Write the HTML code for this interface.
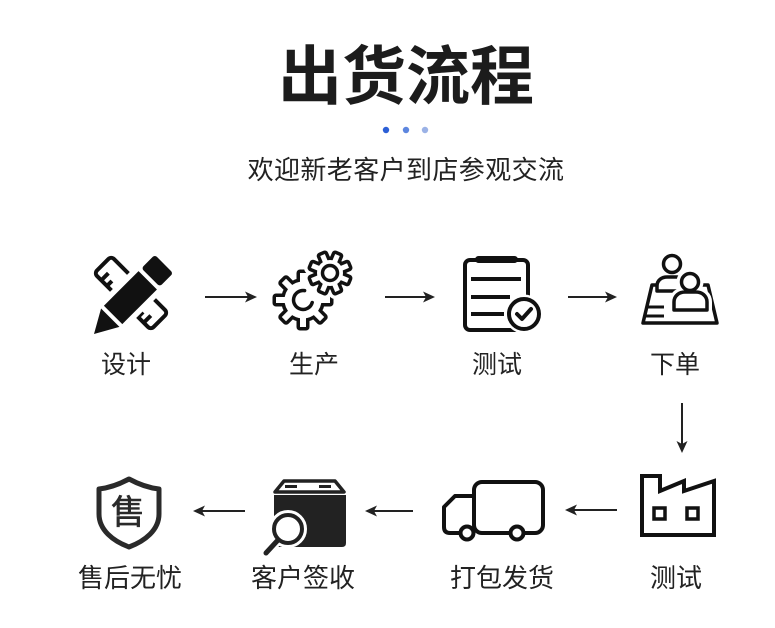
<!DOCTYPE html>
<html><head><meta charset="utf-8"><style>
html,body{margin:0;padding:0;background:#fff;}
#c{position:relative;width:775px;height:628px;overflow:hidden;background:#fff;font-family:"Liberation Sans","Noto Sans CJK SC",sans-serif;}
.t{position:absolute;line-height:1;text-align:center;white-space:nowrap;color:#222;}
svg{position:absolute;left:0;top:0;}
</style></head><body><div id="c">
<svg width="775" height="628" viewBox="0 0 775 628">
<!-- dots -->
<circle cx="386" cy="130" r="3.2" fill="#2c5fd6"/>
<circle cx="406" cy="130" r="3.2" fill="#5d86df"/>
<circle cx="425" cy="130" r="3.2" fill="#9bb2e6"/>

<!-- design icon: ruler -->
<g transform="translate(131,293) rotate(45)" fill="none" stroke="#111" stroke-width="4" stroke-linejoin="round">
<rect x="-40" y="-12" width="80" height="24" rx="4"/>
<line x1="-30" y1="12" x2="-30" y2="2"/>
<line x1="-22" y1="12" x2="-22" y2="5"/>
<line x1="30" y1="12" x2="30" y2="2"/>
<line x1="22" y1="12" x2="22" y2="5"/>
</g>
<!-- pencil -->
<g transform="translate(94,334) rotate(-45)">
<path d="M0,0 L23,-14 L99,-14 L99,14 L23,14 Z" fill="#fff" stroke="#fff" stroke-width="9" stroke-linejoin="round"/>
<polygon points="0,0 23,-13 23,13" fill="#111"/>
<rect x="27" y="-13" width="49" height="26" fill="#111"/>
<rect x="80" y="-13" width="19" height="26" rx="3" fill="#111"/>
</g>

<!-- gears -->
<g transform="translate(303,300)">
<g stroke="#111" stroke-width="7" stroke-linejoin="round" fill="#111">
<circle r="18.5"/>
<rect x="-3" y="-27" width="6" height="27" transform="rotate(0)"/>
<rect x="-3" y="-27" width="6" height="27" transform="rotate(45)"/>
<rect x="-3" y="-27" width="6" height="27" transform="rotate(90)"/>
<rect x="-3" y="-27" width="6" height="27" transform="rotate(135)"/>
<rect x="-3" y="-27" width="6" height="27" transform="rotate(180)"/>
<rect x="-3" y="-27" width="6" height="27" transform="rotate(225)"/>
<rect x="-3" y="-27" width="6" height="27" transform="rotate(270)"/>
<rect x="-3" y="-27" width="6" height="27" transform="rotate(315)"/>
</g>
<g fill="#fff">
<circle r="18.5"/>
<rect x="-3" y="-27" width="6" height="27" transform="rotate(0)"/>
<rect x="-3" y="-27" width="6" height="27" transform="rotate(45)"/>
<rect x="-3" y="-27" width="6" height="27" transform="rotate(90)"/>
<rect x="-3" y="-27" width="6" height="27" transform="rotate(135)"/>
<rect x="-3" y="-27" width="6" height="27" transform="rotate(180)"/>
<rect x="-3" y="-27" width="6" height="27" transform="rotate(225)"/>
<rect x="-3" y="-27" width="6" height="27" transform="rotate(270)"/>
<rect x="-3" y="-27" width="6" height="27" transform="rotate(315)"/>
</g>
<path d="M1.6,-9.4 A9.5,9.5 0 1 0 9.2,2.5" fill="none" stroke="#111" stroke-width="3.5" stroke-linecap="round"/>
</g>
<g transform="translate(330,273)">
<g stroke="#fff" stroke-width="14" stroke-linejoin="round" fill="#fff">
<circle r="13"/>
<rect x="-2.5" y="-19.5" width="5" height="19.5" transform="rotate(22.5)"/>
<rect x="-2.5" y="-19.5" width="5" height="19.5" transform="rotate(67.5)"/>
<rect x="-2.5" y="-19.5" width="5" height="19.5" transform="rotate(112.5)"/>
<rect x="-2.5" y="-19.5" width="5" height="19.5" transform="rotate(157.5)"/>
<rect x="-2.5" y="-19.5" width="5" height="19.5" transform="rotate(202.5)"/>
<rect x="-2.5" y="-19.5" width="5" height="19.5" transform="rotate(247.5)"/>
<rect x="-2.5" y="-19.5" width="5" height="19.5" transform="rotate(292.5)"/>
<rect x="-2.5" y="-19.5" width="5" height="19.5" transform="rotate(337.5)"/>
</g>
<g stroke="#111" stroke-width="7" stroke-linejoin="round" fill="#111">
<circle r="13"/>
<rect x="-2.5" y="-19.5" width="5" height="19.5" transform="rotate(22.5)"/>
<rect x="-2.5" y="-19.5" width="5" height="19.5" transform="rotate(67.5)"/>
<rect x="-2.5" y="-19.5" width="5" height="19.5" transform="rotate(112.5)"/>
<rect x="-2.5" y="-19.5" width="5" height="19.5" transform="rotate(157.5)"/>
<rect x="-2.5" y="-19.5" width="5" height="19.5" transform="rotate(202.5)"/>
<rect x="-2.5" y="-19.5" width="5" height="19.5" transform="rotate(247.5)"/>
<rect x="-2.5" y="-19.5" width="5" height="19.5" transform="rotate(292.5)"/>
<rect x="-2.5" y="-19.5" width="5" height="19.5" transform="rotate(337.5)"/>
</g>
<g fill="#fff">
<circle r="13"/>
<rect x="-2.5" y="-19.5" width="5" height="19.5" transform="rotate(22.5)"/>
<rect x="-2.5" y="-19.5" width="5" height="19.5" transform="rotate(67.5)"/>
<rect x="-2.5" y="-19.5" width="5" height="19.5" transform="rotate(112.5)"/>
<rect x="-2.5" y="-19.5" width="5" height="19.5" transform="rotate(157.5)"/>
<rect x="-2.5" y="-19.5" width="5" height="19.5" transform="rotate(202.5)"/>
<rect x="-2.5" y="-19.5" width="5" height="19.5" transform="rotate(247.5)"/>
<rect x="-2.5" y="-19.5" width="5" height="19.5" transform="rotate(292.5)"/>
<rect x="-2.5" y="-19.5" width="5" height="19.5" transform="rotate(337.5)"/>
</g>
<circle r="7.5" fill="none" stroke="#111" stroke-width="3.5"/>
</g>

<!-- clipboard -->
<rect x="465" y="260" width="63" height="70" rx="5" fill="none" stroke="#111" stroke-width="4"/>
<rect x="475" y="256" width="43" height="7" rx="3.5" fill="#111"/>
<g stroke="#111" stroke-width="4">
<line x1="471" y1="279" x2="521" y2="279"/>
<line x1="471" y1="297" x2="510" y2="297"/>
<line x1="471" y1="314" x2="504" y2="314"/>
</g>
<circle cx="524" cy="314" r="15" fill="#fff" stroke="#fff" stroke-width="9"/>
<circle cx="524" cy="314" r="15" fill="#fff" stroke="#111" stroke-width="4"/>
<polyline points="517,314 522,319 531,309" fill="none" stroke="#111" stroke-width="4" stroke-linecap="round" stroke-linejoin="round"/>

<!-- people / order -->
<path d="M652,285 L643,323 L717,323 L708,285 Z" fill="none" stroke="#111" stroke-width="3.5" stroke-linejoin="round"/>
<g stroke="#111" stroke-width="3">
<line x1="647" y1="307" x2="664" y2="307"/>
<line x1="646" y1="316" x2="664" y2="316"/>
</g>
<path d="M657,291 L657,286 C657,280 662,277 667,277 L677,277 C683,277 688,281 688,286 L688,291 Z" fill="#fff" stroke="#111" stroke-width="3.5" stroke-linejoin="round"/>
<circle cx="672" cy="264" r="8.5" fill="#fff" stroke="#111" stroke-width="3.5"/>
<g fill="#fff" stroke="#fff" stroke-width="10" stroke-linejoin="round">
<path d="M674,310 L674,302 C674,296 679,292 685,292 L696,292 C702,292 707,296 707,302 L707,310 Z"/>
<circle cx="690" cy="282" r="8.5"/>
</g>
<path d="M674,310 L674,302 C674,296 679,292 685,292 L696,292 C702,292 707,296 707,302 L707,310 Z" fill="#fff" stroke="#111" stroke-width="3.5" stroke-linejoin="round"/>
<circle cx="690" cy="282" r="8.5" fill="#fff" stroke="#111" stroke-width="3.5"/>

<!-- factory -->
<path d="M642,535 L642,476 L660,476 L660,491 L684,481 L684,491 L714,481 L714,535 Z" fill="#fff" stroke="#111" stroke-width="4" stroke-linejoin="miter"/>
<rect x="654" y="508" width="11" height="11" fill="none" stroke="#111" stroke-width="3.5"/>
<rect x="687" y="508" width="11" height="11" fill="none" stroke="#111" stroke-width="3.5"/>

<!-- truck -->
<rect x="474" y="482" width="69" height="51" rx="8" fill="none" stroke="#111" stroke-width="4"/>
<path d="M474,496 L455,496 L444,507 L444,527 Q444,533 450,533 L474,533" fill="none" stroke="#111" stroke-width="4" stroke-linejoin="round"/>
<circle cx="467" cy="533" r="6.5" fill="#fff" stroke="#111" stroke-width="4"/>
<circle cx="517" cy="533" r="6.5" fill="#fff" stroke="#111" stroke-width="4"/>

<!-- box + magnifier -->
<path d="M284,481 L335,481 L344,492 L275,492 Z" fill="#fff" stroke="#222" stroke-width="3.5" stroke-linejoin="round"/>
<line x1="285" y1="486.5" x2="297" y2="486.5" stroke="#222" stroke-width="3"/>
<line x1="319" y1="486.5" x2="331" y2="486.5" stroke="#222" stroke-width="3"/>
<path d="M274,495 L346,495 L346,543 Q346,547 342,547 L278,547 Q274,547 274,543 Z" fill="#222"/>
<circle cx="288" cy="529" r="14" fill="#fff" stroke="#fff" stroke-width="10"/>
<line x1="278" y1="540" x2="266" y2="553" stroke="#fff" stroke-width="10" stroke-linecap="round"/>
<line x1="278" y1="540" x2="266" y2="553" stroke="#222" stroke-width="5" stroke-linecap="round"/>
<circle cx="288" cy="529" r="14" fill="#fff" stroke="#222" stroke-width="4"/>

<!-- shield -->
<path d="M129,479 C140,485 150,488 159,489 L159,514 C159,530 145,541 129,547 C113,541 99,530 99,514 L99,489 C108,488 118,485 129,479 Z" fill="#fff" stroke="#2a2a2a" stroke-width="5" stroke-linejoin="round"/>
<text x="128" y="524" text-anchor="middle" font-family="Liberation Sans, Noto Sans CJK SC, sans-serif" font-size="34" font-weight="400" fill="#2a2a2a" stroke="#2a2a2a" stroke-width="0.6">售</text>

<!-- arrows -->
<g stroke="#222" stroke-width="2">
<line x1="205" y1="297" x2="252" y2="297"/>
<line x1="385" y1="297" x2="430" y2="297"/>
<line x1="568" y1="297" x2="612" y2="297"/>
<line x1="682" y1="403" x2="682" y2="448"/>
<line x1="617" y1="510" x2="570" y2="510"/>
<line x1="413" y1="511" x2="370" y2="511"/>
<line x1="245" y1="511" x2="198" y2="511"/>
</g>
<g fill="#222">
<path d="M257,297 L245,291.5 L248,297 L245,302.5 Z"/>
<path d="M435,297 L423,291.5 L426,297 L423,302.5 Z"/>
<path d="M617,297 L605,291.5 L608,297 L605,302.5 Z"/>
<path d="M682,453 L676.5,441 L682,444 L687.5,441 Z"/>
<path d="M565,510 L577,504.5 L574,510 L577,515.5 Z"/>
<path d="M365,511 L377,505.5 L374,511 L377,516.5 Z"/>
<path d="M193,511 L205,505.5 L202,511 L205,516.5 Z"/>
</g>
</svg>

<div class="t" style="left:206px;top:45px;width:400px;font-size:64px;font-weight:700;color:#1c1c1c;">出货流程</div>
<div class="t" style="left:206px;top:157px;width:400px;font-size:26px;letter-spacing:0.4px;">欢迎新老客户到店参观交流</div>

<div class="t" style="left:66px;top:353px;width:120px;font-size:25px;">设计</div>
<div class="t" style="left:254px;top:353px;width:120px;font-size:25px;">生产</div>
<div class="t" style="left:437px;top:353px;width:120px;font-size:25px;">测试</div>
<div class="t" style="left:615px;top:353px;width:120px;font-size:25px;">下单</div>

<div class="t" style="left:70px;top:565px;width:120px;font-size:26px;">售后无忧</div>
<div class="t" style="left:243px;top:565px;width:120px;font-size:26px;">客户签收</div>
<div class="t" style="left:442px;top:565px;width:120px;font-size:26px;">打包发货</div>
<div class="t" style="left:616px;top:565px;width:120px;font-size:26px;">测试</div>
</div></body></html>
